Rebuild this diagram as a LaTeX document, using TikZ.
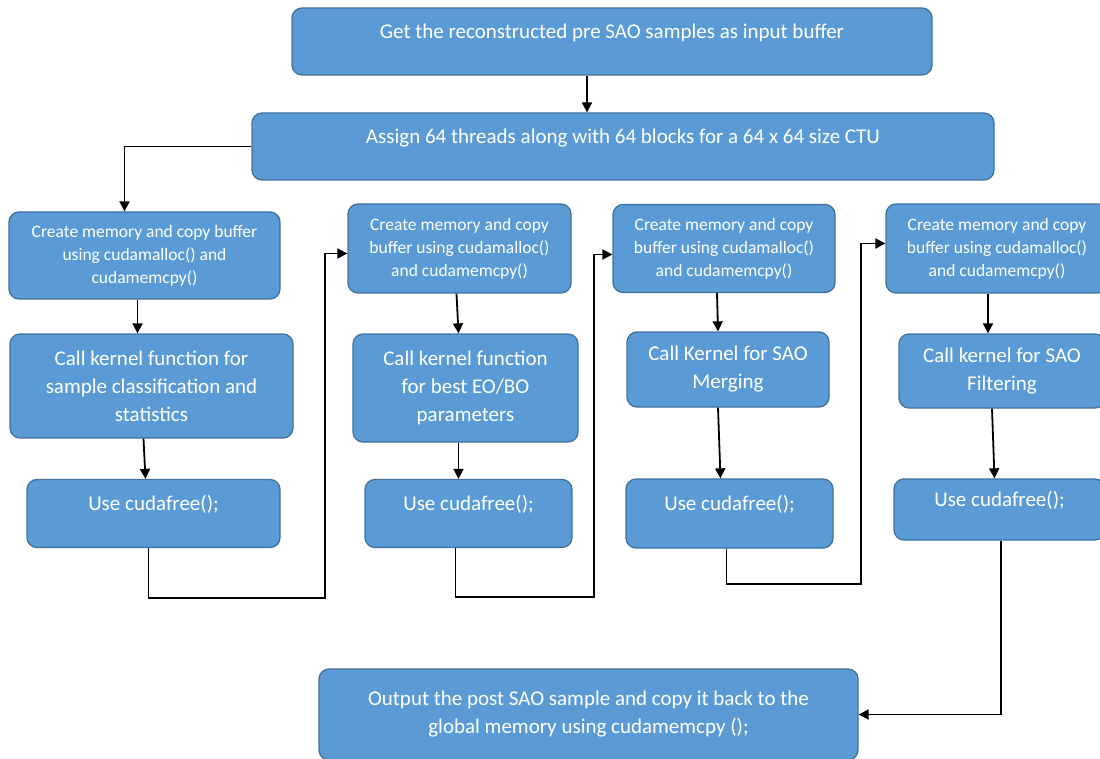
\documentclass[tikz,border=0pt]{standalone}
\usepackage{fontspec}
\setmainfont{Carlito}
\usetikzlibrary{arrows.meta, calc}
\definecolor{boxblue}{HTML}{5B9BD5}
\definecolor{boxedge}{HTML}{41719C}
\tikzset{
  blockbox/.style={draw=boxedge, fill=boxblue, line width=1.3pt, rounded corners=10pt,
    text=white, align=center, inner sep=0pt, font=\fontsize{21}{28}\selectfont},
  smallbox/.style={blockbox, font=\fontsize{17.5}{23}\selectfont},
  oneline/.style={text height=15pt, text depth=21pt},
  flow/.style={draw=black, line width=1.8pt, -{Triangle[length=10pt,width=10pt]}},
}
\begin{document}
\begin{tikzpicture}[x=1pt, y=-1pt]

 %%Paramaters
%% row positions, can be modified
\def\createRow{248.5}
\def\useRow{513.5}
\useasboundingbox (0,0) rectangle (1100,759);

\node[blockbox, oneline, minimum width=640pt, minimum height=67pt] at (612, 41.5) (input) {Get the reconstructed pre SAO samples as input buffer};
\node[blockbox, oneline, minimum width=742pt, minimum height=67pt] at (623, 146.5) (assign) {Assign 64 threads along with 64 blocks for a 64 x 64 size CTU};

                \draw[flow] ([xshift=-25pt]input.south) -- ([xshift=-36pt]assign.north);

 %% ***Column 1 : sample classification and statistics***

                \node[smallbox, minimum width=271pt, minimum height=87pt] at (144.5, 255.5) (create1) {Create memory and copy buffer\\ using cudamalloc() and\\ cudamemcpy()};
                \node[blockbox, minimum width=283pt, minimum height=104pt] at (151.5, 386) (call1) {Call kernel function for\\ sample classification and\\ statistics};
                \node[blockbox, oneline, minimum width=253pt, minimum height=68pt] at (153.5, \useRow) (use1) {Use cudafree();};
\draw[flow] (assign.west) -| ([xshift=-20pt]create1.north);
\draw[flow] ([xshift=-7pt]create1.south) -- ([xshift=-14pt]call1.north);
\draw[flow] ([xshift=-8pt]call1.south) -- ([xshift=-8pt]use1.north);

 %% ***Column 2 : best EO/BO parameters***

                \node[smallbox, minimum width=223pt, minimum height=89pt] at (459.5, \createRow) (create2) {Create memory and copy\\ buffer using cudamalloc()\\ and cudamemcpy()};
                \node[blockbox, minimum width=225pt, minimum height=108pt] at (465.5, 388) (call2) {Call kernel function\\ for best EO/BO\\ parameters};
                \node[blockbox, oneline, minimum width=207pt, minimum height=68pt] at (468.5, \useRow) (use2) {Use cudafree();};
\draw[flow] ([xshift=-5pt]use1.south) -- ++(0, 50) -| ([xshift=-22pt, yshift=-5pt]create2.west) -- ([yshift=-5pt]create2.west);
\draw[flow] ([xshift=-3pt]create2.south) -- ([xshift=-7pt]call2.north);
\draw[flow] ([xshift=-7pt]call2.south) -- ([xshift=-10pt]use2.north);

 %% ***Column 3 : SAO merging***

                \node[smallbox, minimum width=222pt, minimum height=88pt] at (724, \createRow) (create3) {Create memory and copy\\ buffer using cudamalloc()\\ and cudamemcpy()};
                \node[blockbox, minimum width=202pt, minimum height=75pt] at (728, 369.5) (call3) {Call Kernel for SAO\\ Merging};
                \node[blockbox, oneline, minimum width=207pt, minimum height=69pt] at (729.5, \useRow) (use3) {Use cudafree();};
\draw[flow] ([xshift=-13pt]use2.south) -- ++(0, 49) -| ([xshift=-18pt, yshift=-6pt]create3.west) -- ([yshift=-6pt]create3.west);
\draw[flow] ([xshift=-7pt]create3.south) -- ([xshift=-10pt]call3.north);
\draw[flow] ([xshift=-10pt]call3.south) -- ([xshift=-9pt]use3.north);

 %% ***Column 4 : SAO filtering***

                \node[smallbox, minimum width=222pt, minimum height=89pt] at (997, \createRow) (create4) {Create memory and copy\\ buffer using cudamalloc()\\ and cudamemcpy()};
                \node[blockbox, minimum width=206pt, minimum height=74pt] at (1002, 371) (call4) {Call kernel for SAO\\ Filtering};
                \node[blockbox, oneline, minimum width=211pt, minimum height=61pt] at (999.5, 509.5) (use4) {Use cudafree();};
\draw[flow] ([xshift=-3pt]use3.south) -- ++(0, 35) -| ([xshift=-24pt, yshift=5pt]create4.west) -- ([yshift=5pt]create4.west);
\draw[flow] ([xshift=-9pt]create4.south) -- ([xshift=-14pt]call4.north);
\draw[flow] ([xshift=-10pt]call4.south) -- ([xshift=-5pt]use4.north);

%% Output back to global memory

\node[blockbox, minimum width=539pt, minimum height=91pt] at (588.5, 714.5) (output) {Output the post SAO sample and copy it back to the\\ global memory using cudamemcpy ();};

            \draw[flow] ([xshift=1.5pt]use4.south) |- (output.east);
 \end{tikzpicture}
\end{document}
